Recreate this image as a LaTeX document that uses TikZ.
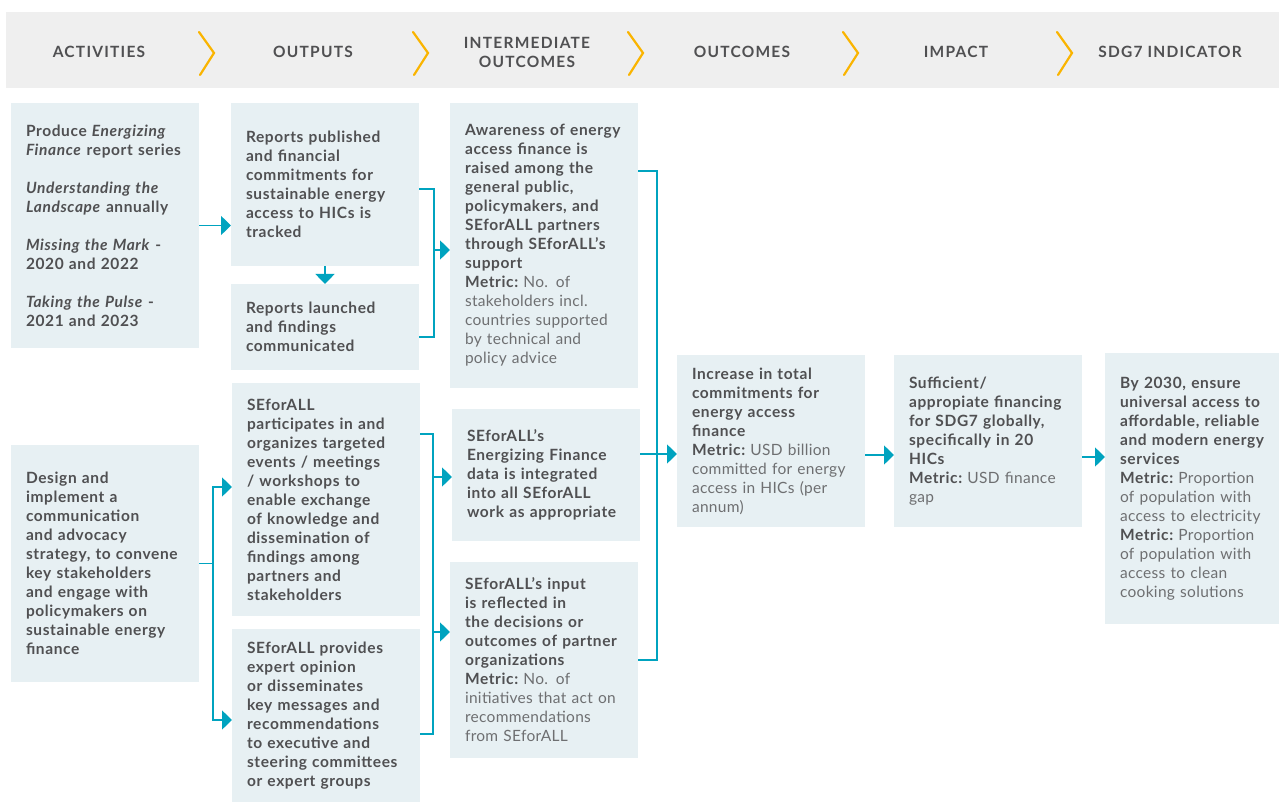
\documentclass[tikz,border=0pt]{standalone}
\usepackage{fontspec}
\setmainfont{Lato}
\usetikzlibrary{arrows.meta}
\definecolor{band}{HTML}{EFEFEF}
\definecolor{boxfill}{HTML}{E7F0F3}
\definecolor{linkblue}{HTML}{00A3BF}
\definecolor{chevgold}{HTML}{FAB400}
\definecolor{txt}{HTML}{505052}
\definecolor{txtlight}{HTML}{6E6F71}
\newcommand{\metric}{\bfseries\addfontfeatures{LetterSpace=4}\color{txt}Metric:%
  \mdseries\addfontfeatures{LetterSpace=2}\color{txtlight}\ }

\begin{document}
\begin{tikzpicture}[x=1pt,y=-1pt,
  box/.style={fill=boxfill, anchor=north west, inner xsep=15pt, inner ysep=2pt, outer sep=0pt,
    text width=158pt, align=left, text=txt,
    font=\fontsize{15.5}{19}\selectfont\bfseries\addfontfeatures{LetterSpace=4}},
  head/.style={text=txt, align=center, font=\fontsize{15.5}{19}\selectfont\bfseries\addfontfeatures{LetterSpace=8}},
  link/.style={draw=linkblue, line width=1.5pt},
  arr/.style={link, -{Triangle[width=19pt,length=10pt]}},
  chev/.style={draw=chevgold, line width=2.2pt, line cap=round}]
  \useasboundingbox (0,0) rectangle (1279,802);

  % Draw the header band
  \fill[band] (6,12) rectangle (1279,88);
  \foreach \x in {199,413,628,843,1057}
    \draw[chev] (\x,32) -- (\x+15,53) -- (\x+1,75);

  \node[head] (h1) at (99,52) {ACTIVITIES};
  \node[head] (h2) at (313,52) {OUTPUTS};
  \node[head] (h3) at (527,52) {INTERMEDIATE\\OUTCOMES};
  \node[head] (h4) at (742,52) {OUTCOMES};
  \node[head] (h5) at (956,52) {IMPACT};
  \node[head] (h6) at (1170,52) {SDG7 INDICATOR};

  % Activities
  \node[box, minimum height=245pt] (act1) at (11,103) {Produce \textit{Energizing}\\
    \textit{Finance} report series\\[19pt]
    \textit{Understanding the}\\ \textit{Landscape} annually\\[19pt]
    \textit{Missing the Mark} -\\ 2020 and 2022\\[19pt]
    \textit{Taking the Pulse} -\\ 2021 and 2023};
  \node[box, minimum height=237pt] (act2) at (11,445) {Design and\\ implement a\\ communication\\
    and advocacy\\ strategy, to convene\\ key stakeholders\\ and engage with\\ policymakers on\\
    sustainable energy\\ finance};

  % Outputs
  \node[box, minimum height=163pt] (out1) at (231,103) {Reports published\\ and financial\\
    commitments for\\ sustainable energy\\ access to HICs is\\ tracked};
  \node[box, minimum height=86pt] (out2) at (231,284) {Reports launched\\ and findings\\ communicated};
  \node[box, minimum height=233pt] (out3) at (232,383) {SEforALL\\ participates in and\\
    organizes targeted\\ events / meetings\\ / workshops to\\ enable exchange\\ of knowledge and\\
    dissemination of\\ findings among\\ partners and\\ stakeholders};
  \node[box, minimum height=173pt] (out4) at (232,629) {SEforALL provides\\ expert opinion\\
    or disseminates\\ key messages and\\ recommendations\\ to executive and\\ steering committees\\
    or expert groups};

  % Intermediate outcomes
  \node[box, minimum height=285pt] (int1) at (450,103) {Awareness of energy\\ access finance is\\
    raised among the\\ general public,\\ policymakers, and\\ SEforALL partners\\ through SEforALL’s\\
    support\\ \metric No. of\\ stakeholders incl.\\ countries supported\\ by technical and\\ policy advice\\[-10pt]};
  \node[box, minimum height=132pt] (int2) at (452,409) {SEforALL’s\\ Energizing Finance\\
    data is integrated\\ into all SEforALL\\ work as appropriate};
  \node[box, minimum height=196pt] (int3) at (450,562) {SEforALL’s input\\ is reflected in\\
    the decisions or\\ outcomes of partner\\ organizations\\ \metric No. of\\
    initiatives that act on\\ recommendations\\ from SEforALL};

  % Outcomes, impact, indicator
  \node[box, minimum height=172pt] (oc) at (677,355) {Increase in total\\ commitments for\\
    energy access\\ finance\\ \metric USD billion\\ committed for energy\\ access in HICs (per\\ annum)};
  \node[box, minimum height=172pt] (imp) at (894,355) {Sufficient/\\ appropiate financing\\
    for SDG7 globally,\\ specifically in 20\\ HICs\\ \metric USD finance\\ gap};
  \node[box, minimum height=271pt] (sdg) at (1105,353) {By 2030, ensure\\
    universal access to\\ affordable, reliable\\ and modern energy\\ services\\
    \metric Proportion\\ of population with\\ access to electricity\\
    \metric Proportion\\ of population with\\ access to clean\\ cooking solutions};

  % Connectors
  \coordinate (k1) at (434,250);
  \coordinate (k2) at (213,562);
  \coordinate (k3) at (433,477);
  \coordinate (k4) at (657,454);

  \draw[arr] (act1.east) -- (act1.east -| out1.west);
  \draw[arr] (out1.south) -- (out2.north);

  \draw[link] ([yshift=-4.5pt]out1.east) -| (k1) |- ([yshift=-10pt]out2.east);
  \draw[arr] (k1) -- (k1 -| int1.west);

  \draw[link] (act2.east) -- (act2.east -| k2);
  \draw[arr] (act2.east -| k2) |- ([yshift=12.5pt]out3.west);
  \draw[arr] (act2.east -| k2) |- ([yshift=-4.5pt]out4.west);

  \draw[link] ([yshift=65.5pt]out3.east) -| (k3) |- ([yshift=-18.5pt]out4.east);
  \draw[arr] (k3) -- (k3 -| int2.west);
  \draw[arr] (k3 |- int3.west) ++(0,-28) -- ([yshift=28pt]int3.west);

  \draw[link] ([yshift=74.5pt]int1.east) -| (k4) |- (int3.east);
  \draw[arr] (k4 -| int2.east) -- (k4 -| oc.west);

  \draw[arr] ([yshift=-14pt]oc.east) -- ([yshift=-14pt]imp.west);
  \draw[arr] ([yshift=-16pt]imp.east) -- ([yshift=31.5pt]sdg.west);
\end{tikzpicture}
\end{document}
